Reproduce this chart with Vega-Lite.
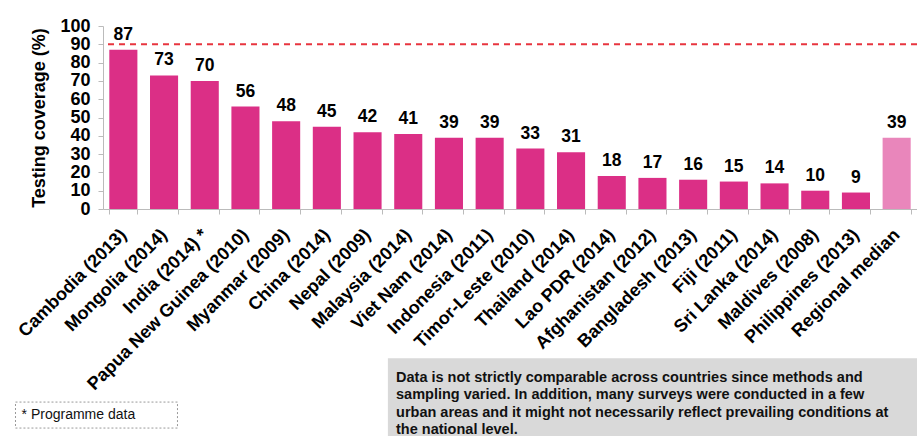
{
  "$schema": "https://vega.github.io/schema/vega-lite/v6.json",
  "autosize": {"type": "none"},
  "padding": {"left": 103, "top": 26, "right": 0, "bottom": 227},
  "width": 814,
  "height": 183,
  "background": "white",
  "config": {
    "view": {"stroke": null},
    "font": "Liberation Sans"
  },
  "data": {
    "values": [
      {"country": "Cambodia (2013)", "coverage": 87, "group": "country"},
      {"country": "Mongolia (2014)", "coverage": 73, "group": "country"},
      {"country": "India (2014) *", "coverage": 70, "group": "country"},
      {"country": "Papua New Guinea (2010)", "coverage": 56, "group": "country"},
      {"country": "Myanmar (2009)", "coverage": 48, "group": "country"},
      {"country": "China (2014)", "coverage": 45, "group": "country"},
      {"country": "Nepal (2009)", "coverage": 42, "group": "country"},
      {"country": "Malaysia (2014)", "coverage": 41, "group": "country"},
      {"country": "Viet Nam (2014)", "coverage": 39, "group": "country"},
      {"country": "Indonesia (2011)", "coverage": 39, "group": "country"},
      {"country": "Timor-Leste (2010)", "coverage": 33, "group": "country"},
      {"country": "Thailand (2014)", "coverage": 31, "group": "country"},
      {"country": "Lao PDR (2014)", "coverage": 18, "group": "country"},
      {"country": "Afghanistan (2012)", "coverage": 17, "group": "country"},
      {"country": "Bangladesh (2013)", "coverage": 16, "group": "country"},
      {"country": "Fiji (2011)", "coverage": 15, "group": "country"},
      {"country": "Sri Lanka (2014)", "coverage": 14, "group": "country"},
      {"country": "Maldives (2008)", "coverage": 10, "group": "country"},
      {"country": "Philippines (2013)", "coverage": 9, "group": "country"},
      {"country": "Regional median", "coverage": 39, "group": "median"}
    ]
  },
  "layer": [
    {
      "mark": {"type": "bar"},
      "encoding": {
        "x": {
          "field": "country", "type": "nominal", "sort": null,
          "scale": {"paddingInner": 0.31, "paddingOuter": 0.155},
          "axis": {
            "title": null, "labelAngle": -45, "labelAlign": "right", "labelBaseline": "middle",
            "labelFontSize": 18, "labelFontWeight": "bold", "labelColor": "#000",
            "domainColor": "#bbb", "tickColor": "#bbb", "tickSize": 5, "tickBand": "extent",
            "labelPadding": 18, "labelLimit": 300
          }
        },
        "y": {
          "field": "coverage", "type": "quantitative",
          "scale": {"domain": [0, 100]},
          "axis": {
            "title": "Testing coverage (%)", "titleFontSize": 18, "titleFontWeight": "bold", "titleColor": "#000",
            "values": [0, 10, 20, 30, 40, 50, 60, 70, 80, 90, 100],
            "labelFontSize": 18, "labelFontWeight": "bold", "labelColor": "#000",
            "grid": false, "domainColor": "#bbb", "tickColor": "#bbb", "tickSize": 5,
            "labelPadding": 8, "titlePadding": 11
          }
        },
        "color": {
          "field": "group", "type": "nominal",
          "scale": {"domain": ["country", "median"], "range": ["#db2f86", "#e986bb"]},
          "legend": null
        }
      }
    },
    {
      "mark": {"type": "text", "dy": -6, "fontSize": 17.5, "fontWeight": "bold", "color": "#000", "baseline": "bottom"},
      "encoding": {
        "x": {"field": "country", "type": "nominal", "sort": null, "scale": {"paddingInner": 0.31, "paddingOuter": 0.155}, "axis": null},
        "y": {"field": "coverage", "type": "quantitative", "scale": {"domain": [0, 100]}, "axis": null},
        "text": {"field": "coverage", "type": "quantitative"}
      }
    },
    {
      "data": {"values": [{"target": 90}]},
      "mark": {"type": "rule", "color": "#e8353f", "strokeWidth": 2, "strokeDash": [6, 5]},
      "encoding": {
        "y": {"field": "target", "type": "quantitative", "scale": {"domain": [0, 100]}, "axis": null}
      }
    },
    {
      "data": {"values": [{"note": "comparability"}]},
      "mark": {"type": "rect", "fill": "#d9d9d9"},
      "encoding": {
        "x": {"datum": 7, "type": "quantitative", "scale": {"domain": [0, 20]}, "axis": null},
        "x2": {"datum": 20},
        "y": {"datum": -81.5, "type": "quantitative", "scale": {"domain": [0, 100]}, "axis": null},
        "y2": {"datum": -124}
      }
    },
    {
      "data": {"values": [{"note": "comparability"}]},
      "mark": {"type": "text", "align": "left", "baseline": "top", "fontSize": 14.5, "fontWeight": "bold", "color": "#111", "lineHeight": 17.5},
      "encoding": {
        "x": {"datum": 7.2, "type": "quantitative", "scale": {"domain": [0, 20]}, "axis": null},
        "y": {"datum": -88.5, "type": "quantitative", "scale": {"domain": [0, 100]}, "axis": null},
        "text": {"value": [
          "Data is not strictly comparable across countries since methods and",
          "sampling varied. In addition, many surveys were conducted in a few",
          "urban areas and it might not necessarily reflect prevailing conditions at",
          "the national level."
        ]}
      }
    },
    {
      "data": {"values": [{"note": "programme"}]},
      "mark": {"type": "rect", "fill": "white", "stroke": "#999", "strokeWidth": 1, "strokeDash": [2, 2]},
      "encoding": {
        "x": {"datum": -2.15, "type": "quantitative", "scale": {"domain": [0, 20]}, "axis": null},
        "x2": {"datum": 1.83},
        "y": {"datum": -105.5, "type": "quantitative", "scale": {"domain": [0, 100]}, "axis": null},
        "y2": {"datum": -119.7}
      }
    },
    {
      "data": {"values": [{"note": "programme"}]},
      "mark": {"type": "text", "align": "left", "baseline": "middle", "fontSize": 14, "color": "#111"},
      "encoding": {
        "x": {"datum": -2.0, "type": "quantitative", "scale": {"domain": [0, 20]}, "axis": null},
        "y": {"datum": -112.6, "type": "quantitative", "scale": {"domain": [0, 100]}, "axis": null},
        "text": {"value": "* Programme data"}
      }
    }
  ],
  "resolve": {"scale": {"x": "independent", "y": "independent"}, "axis": {"x": "independent", "y": "independent"}}
}
